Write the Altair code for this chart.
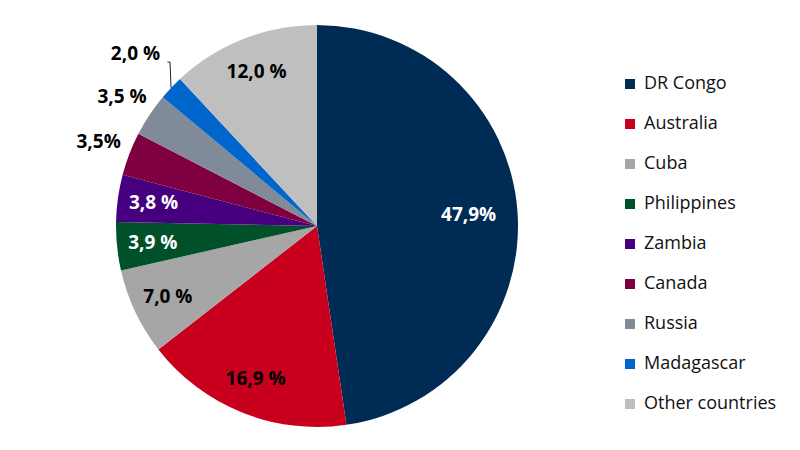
import math
import altair as alt
import pandas as pd

countries = ["DR Congo", "Australia", "Cuba", "Philippines", "Zambia",
             "Canada", "Russia", "Madagascar", "Other countries"]
shares = [47.9, 16.9, 7.0, 3.9, 3.8, 3.5, 3.5, 2.0, 12.0]
labels = ["47,9%", "16,9 %", "7,0 %", "3,9 %", "3,8 %", "3,5%", "3,5 %", "2,0 %", "12,0 %"]
colors = ["#002b55", "#c8001e", "#a6a6a6", "#00502a", "#46007f",
          "#7f0040", "#808a99", "#0066cc", "#bfbfbf"]
label_colors = ["white", "black", "black", "white", "white",
                "black", "black", "black", "black"]

CX, CY, R = 317, 226, 201

df = pd.DataFrame({
    "country": countries,
    "share": shares,
    "label": labels,
    "lcolor": label_colors,
    "order": list(range(len(countries))),
})


def lab_r(v):
    # inside for larger slices, outside for small ones
    if v < 3.0:
        return 250
    if v < 3.7:
        return 234
    if v > 40:
        return 152
    return 165


df["lr"] = [lab_r(v) for v in shares]

# leader line for the smallest slice
total = sum(shares)
cum = 0
lead = []
for v, r in zip(shares, df["lr"]):
    mid = (cum + v / 2) / total * 2 * math.pi
    cum += v
    if v < 3.0:
        ex, ey = CX + R * math.sin(mid), CY - R * math.cos(mid)
        lx, ly = CX + r * math.sin(mid), CY - r * math.cos(mid)
        lead = [
            {"i": 0, "x": ex, "y": ey},
            {"i": 1, "x": ex - 1, "y": ly + 8},
            {"i": 2, "x": lx + 32, "y": ly + 8},
        ]
lead_df = pd.DataFrame(lead)

pie = alt.Chart(df).mark_arc(outerRadius=R, x=CX, y=CY).encode(
    theta=alt.Theta("share:Q", stack=True),
    order=alt.Order("order:Q"),
    color=alt.Color(
        "country:N",
        sort=countries,
        scale=alt.Scale(domain=countries, range=colors),
        legend=alt.Legend(
            title=None,
            orient="none",
            legendX=621,
            legendY=75,
            symbolType="square",
            symbolSize=100,
            symbolStrokeWidth=0,
            labelFont="Open Sans",
            labelFontSize=18,
            labelColor="#111111",
            labelOffset=5,
            rowPadding=22,
            padding=0,
        ),
    ),
)

text = alt.Chart(df).transform_window(
    cum="sum(share)", sort=[alt.SortField("order")], frame=[None, 0]
).transform_calculate(
    mid="datum.cum - datum.share / 2"
).mark_text(
    x=CX, y=CY, font="Open Sans", fontSize=19, fontWeight="bold"
).encode(
    theta=alt.Theta("mid:Q", stack=None),
    radius=alt.Radius("lr:Q", scale=None),
    text="label:N",
    color=alt.Color("lcolor:N", scale=None),
)

leader = alt.Chart(lead_df).mark_line(color="#222222", strokeWidth=1).encode(
    x=alt.X("x:Q", scale=None),
    y=alt.Y("y:Q", scale=None),
    order="i:Q",
)

chart = alt.layer(pie, leader, text).properties(
    width=800, height=450, autosize="none", padding=0
).configure_view(stroke=None)

chart.save("out.html", embed_options={"renderer": "svg", "actions": False})
